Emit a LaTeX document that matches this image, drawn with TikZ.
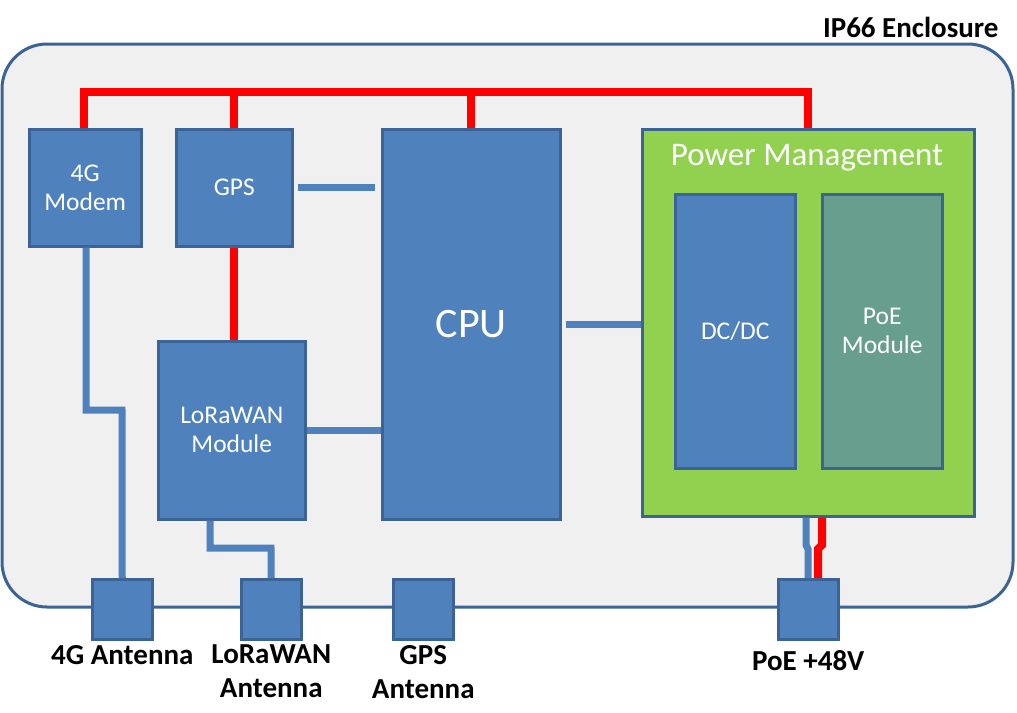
\documentclass[tikz,border=0pt]{standalone}
\usepackage{fontspec}
\setmainfont{Carlito}
\begin{document}
\begin{tikzpicture}[x=1pt,y=-1pt]
        \definecolor{boxblue}{HTML}{4F81BD}
        \definecolor{edgeblue}{HTML}{3B6396}
        \definecolor{pmgreen}{HTML}{92D050}
        \definecolor{poeteal}{HTML}{679E8E}
        \tikzset{
            blk/.style={draw=edgeblue, line width=2.5pt, fill=boxblue, text=white,
            align=center, anchor=north west, inner sep=0pt, font=\fontsize{25.5}{29}\selectfont},
            ant/.style={blk, font=\relax},
            lbl/.style={align=center, anchor=north, font=\bfseries\fontsize{29}{34}\selectfont},
            pwr/.style={red, line width=8pt},
            dat/.style={boxblue, line width=7pt}
            }

            \useasboundingbox (0,0) rectangle (1017,712);
            \draw[edgeblue, line width=3pt, fill=black!6, rounded corners=45pt] (2,44) rectangle (1013,607);
            \node[anchor=east, font=\bfseries\fontsize{29}{32}\selectfont] (encl) at (1002,27) {IP66 Enclosure};

            \node[blk, minimum width=112, minimum height=117] (modem) at (28,128) {4G\\Modem};
            \node[blk, minimum width=116, minimum height=117] (gps) at (175,128) {GPS};
            \node[blk, minimum width=178, minimum height=390, font=\fontsize{42}{46}\selectfont] (cpu) at (381,128) {CPU};
            \node[blk, minimum width=147, minimum height=178] (lora) at (157,340) {LoRaWAN\\Module};
            \node[blk, fill=pmgreen, minimum width=332, minimum height=387] (pm) at (641,128) {};
            \node[text=white, font=\fontsize{33}{36}\selectfont] (pmt) at (807,158) {Power Management};
            \node[blk, minimum width=120, minimum height=274] (dcdc) at (674,193) {DC/DC};
            \node[blk, fill=poeteal, minimum width=120, minimum height=274] (poem) at (821,193) {PoE\\Module};

            \node[ant, minimum size=60] (a4g) at (91,578) {};
            \node[ant, minimum size=60] (alora) at (240,578) {};
            \node[ant, minimum size=60] (agps) at (392,578) {};
            \node[ant, minimum size=60] (apoe) at (777,578) {};
            \node[lbl] (l4g) at ([yshift=-1]a4g.south) {4G Antenna};
            \node[lbl] (llora) at ([yshift=-1]alora.south) {LoRaWAN\\Antenna};
            \node[lbl] (lgps) at ([yshift=-1]agps.south) {GPS\\Antenna};
            \node[lbl] (lpoe) at ([yshift=-6]apoe.south) {PoE +48V};

            % power rail
            \coordinate (r1) at (84,92);
            \coordinate (r2) at (808,92);
            \draw[pwr] (modem.north -| r1) -- (r1) -- (r2) -- (pm.north -| r2);
            \draw[pwr] (gps.north) -- (gps.north |- r1);
            \draw[pwr] (cpu.north) -- (cpu.north |- r1);
            \draw[pwr] (gps.south) -- (lora.north -| gps.south);
            \draw[pwr] (pm.south -| 822,0) -- (822,545) -- (818,549) -- (apoe.north -| 818,0);

            % data lines
            \draw[dat] ([xshift=4]gps.east) -- ([xshift=-6]cpu.west |- gps.east);
            \draw[dat] ([xshift=4]cpu.east) -- (pm.west |- cpu.east);
            \draw[dat] (lora.east |- 0,430) -- (cpu.west |- 0,430);
            \draw[dat] (modem.south -| 86,0) -- (86,410) -- (122,410) -- (a4g.north);
            \draw[dat] (lora.south -| 210,0) -- (210,548) -- (271,548) -- (alora.north);
            \draw[dat] (pm.south -| 806,0) -- (806,545) -- (808,549) -- (apoe.north -| 808,0);
        \end{tikzpicture}
\end{document}
